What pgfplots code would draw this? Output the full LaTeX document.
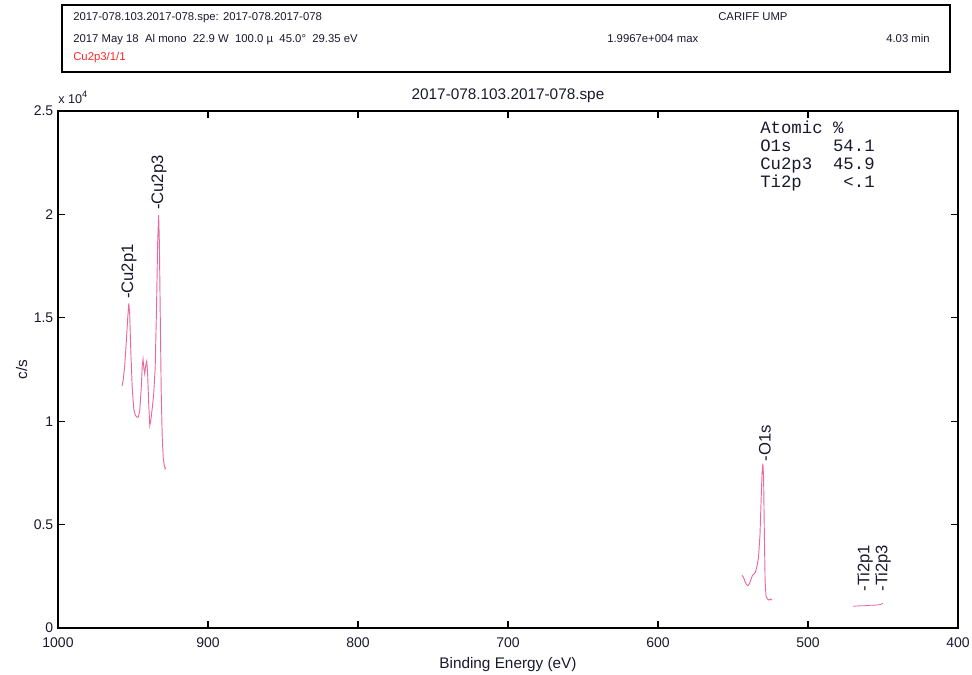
\documentclass[border=0pt]{standalone}
\usepackage{fontspec}
\setmainfont{Liberation Sans}
\setmonofont{Liberation Mono}
\usepackage{pgfplots}
\pgfplotsset{compat=1.18}

\definecolor{spec}{RGB}{232,105,160}
\definecolor{ink}{RGB}{25,25,45}

\begin{document}
\begin{tikzpicture}
% page = 972 x 675 px, 1 px = 0.75 pt
\path[use as bounding box] (0,0) rectangle (729pt,506.25pt);

% header box
\draw[line width=1.3pt] (46.5pt,452.25pt) rectangle (712.5pt,502.5pt);
\begin{scope}[every node/.style={inner sep=0pt, anchor=base west, font=\fontsize{8.5}{10}\selectfont, text=ink}]
\node at (54.75pt,490.5pt) {2017-078.103.2017-078.spe: 2017-078.2017-078};
\node at (538.5pt,490.5pt) {CARIFF UMP};
\node at (54.75pt,474pt) {2017 May 18\ \ Al mono\ \ 22.9 W\ \ 100.0 µ\ \ 45.0°\ \ 29.35 eV};
\node at (455.25pt,474pt) {1.9967e+004 max};
\node[anchor=base east] at (697.5pt,474pt) {4.03 min};
\node[text=red!85] at (54.75pt,460.5pt) {Cu2p3/1/1};
\end{scope}

\begin{axis}[
    at={(43.5pt,35.25pt)}, anchor=south west,
    scale only axis,
    width=675pt, height=387.75pt,
    x dir=reverse,
    xmin=400, xmax=1000,
    ymin=0, ymax=25000,
    xtick={400,500,...,1000},
    ytick={0,5000,10000,15000,20000,25000},
    yticklabels={0,0.5,1,1.5,2,2.5},
    scaled y ticks=false,
    /pgf/number format/assume math mode=true,
    /pgf/number format/set thousands separator={},
    tick label style={font=\fontsize{10.5}{12}\selectfont, text=ink},
    xticklabel style={yshift=-4pt},
    tick align=inside,
    major tick length=5pt,
    axis line style={line width=1pt},
    every tick/.style={line width=0.8pt, black},
    xlabel={Binding Energy (eV)},
    ylabel={c/s},
    label style={font=\fontsize{11.5}{13}\selectfont, text=ink},
    xlabel style={yshift=0pt},
    ylabel style={yshift=-2pt},
    title={2017-078.103.2017-078.spe},
    title style={font=\fontsize{11.5}{13}\selectfont, text=ink, yshift=-3pt},
    clip=false,
]
% Cu 2p region
\addplot[spec, line width=0.7pt] coordinates {
    (957.3,11700) (956.5,12000) (955.5,12700) (954.5,13800) (953.5,15000)
    (952.8,15700) (952.2,15200) (951.5,13500) (950.5,11600) (949.5,10600)
    (948.5,10300) (947.5,10200) (946.5,10200) (945.5,10500) (944.5,11600)
    (943.8,12700) (943.3,13000) (942.8,12600) (942.2,12300) (941.5,12700)
    (940.8,12900) (940.2,12200) (939.5,10800) (938.8,9800) (938.2,10000)
    (937.2,10600) (936.2,11300) (935.2,12600) (934.3,15500) (933.6,18500)
    (932.9,19970) (932.4,18600) (931.8,15000) (931.2,11500) (930.5,9200)
    (929.8,8200) (929.2,7900) (928.6,7700) (928.0,7750)
};
% O 1s region
\addplot[spec, line width=0.7pt] coordinates {
    (544,2550) (543,2450) (542,2250) (541,2100) (540,2050) (539,2150)
    (538,2350) (537,2550) (536,2600) (535,2700) (534,3000) (533,3400)
    (532,4500) (531.2,6300) (530.6,7500) (530.1,7950) (529.6,7300)
    (529.1,4600) (528.6,2300) (528,1550) (527,1400) (526,1350)
    (525,1400) (524,1350)
};
% Ti 2p region
\addplot[spec, line width=0.6pt] coordinates {
    (470,1050) (466,1070) (462,1080) (458,1100) (454,1110) (451,1150) (450,1200)
};

\begin{scope}[every node/.style={rotate=90, anchor=west, inner sep=0pt, font=\fontsize{12.5}{14}\selectfont, text=ink}]
\node at (axis cs:952.7,15900) {-Cu2p1};
\node at (axis cs:932.7,20200) {-Cu2p3};
\node at (axis cs:528.7,8050) {-O1s};
\node at (axis cs:462,1750) {-Ti2p1};
\node at (axis cs:450,1750) {-Ti2p3};
\end{scope}

\node[anchor=north west, align=left, inner sep=0pt, text=ink,
      font=\ttfamily\fontsize{13}{13.7}\selectfont]
  at (axis cs:532,24550) {Atomic\ \%\\O1s\ \ \ \ 54.1\\Cu2p3\ \ 45.9\\Ti2p\ \ \ \ <.1};
\end{axis}

\node[anchor=base west, inner sep=0pt, font=\fontsize{9.5}{11}\selectfont, text=ink]
  at (43.5pt,428.25pt) {x 10\raisebox{0.9ex}{\fontsize{7}{8}\selectfont 4}};
\end{tikzpicture}
\end{document}
